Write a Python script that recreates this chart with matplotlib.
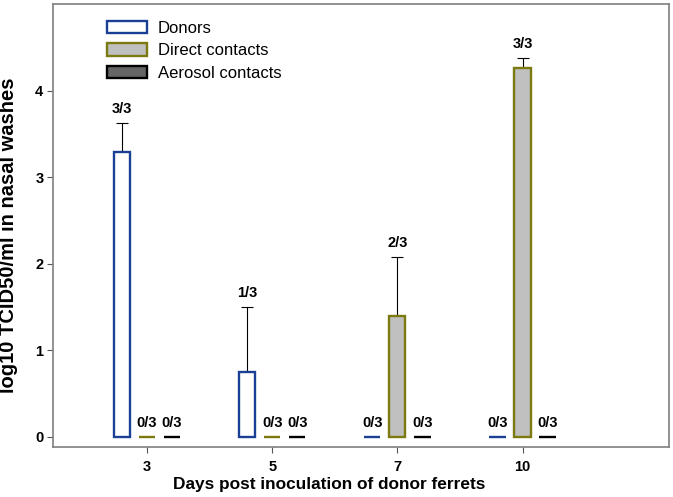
import numpy as np
import matplotlib.pyplot as plt

plt.rcParams['font.family'] = ['Liberation Sans', 'DejaVu Sans']

days = ['3', '5', '7', '10']
donors = [3.29, 0.75, 0.0, 0.0]
donors_err = [0.33, 0.75, 0.0, 0.0]
direct = [0.0, 0.0, 1.39, 4.26]
direct_err = [0.0, 0.0, 0.69, 0.12]
aerosol = [0.0, 0.0, 0.0, 0.0]
aerosol_err = [0.0, 0.0, 0.0, 0.0]
donors_lab = ['3/3', '1/3', '0/3', '0/3']
direct_lab = ['0/3', '0/3', '2/3', '3/3']
aerosol_lab = ['0/3', '0/3', '0/3', '0/3']

fig = plt.figure(figsize=(6.73, 4.97), dpi=100)
ax = fig.add_axes([0.079, 0.1006, 0.915, 0.8914])

x = np.arange(len(days))
w = 0.13
groups = [
    (donors, donors_err, donors_lab, -0.2, 'white', '#1a3f94', 'Donors'),
    (direct, direct_err, direct_lab, 0.0, '#c0c0c0', '#7a7a10', 'Direct contacts'),
    (aerosol, aerosol_err, aerosol_lab, 0.2, '#666666', 'black', 'Aerosol contacts'),
]
for vals, errs, labs, off, fc, ec, name in groups:
    ax.bar(x + off, vals, w, color=fc, edgecolor=ec, linewidth=1.7, label=name, zorder=3)
    for i in range(len(vals)):
        top = vals[i]
        if errs[i] > 0:
            ax.errorbar(x[i] + off, vals[i], yerr=[[0], [errs[i]]], color='black',
                        linewidth=0.8, capsize=4.5, capthick=0.8, zorder=2)
            top = vals[i] + errs[i]
        ax.annotate(labs[i], (x[i] + off, top), xytext=(0, 5), textcoords='offset points',
                    ha='center', va='bottom', fontsize=10.5, fontweight='bold')

ax.set_xlim(-0.75, 4.17)
ax.set_ylim(-0.12, 5.0)
ax.set_xticks(x)
ax.set_xticklabels(days)
ax.set_yticks([0, 1, 2, 3, 4])
for lab in ax.get_xticklabels() + ax.get_yticklabels():
    lab.set_fontweight('bold')
    lab.set_fontsize(10.5)
ax.tick_params(top=False, right=False, length=4, color='#555555')
ax.tick_params(axis='x', pad=5)
ax.tick_params(axis='y', pad=3)
for s in ax.spines.values():
    s.set_color('#7f7f7f')
    s.set_linewidth(1.2)

ax.set_xlabel('Days post inoculation of donor ferrets', fontsize=12.4, fontweight='bold')
ax.xaxis.set_label_coords(0.449, -0.067)
ax.set_ylabel('log10 TCID50/ml in nasal washes', fontsize=14.5, fontweight='bold')
ax.yaxis.set_label_coords(-0.057, 0.478)

ax.legend(loc='upper left', bbox_to_anchor=(0.0877, 0.962), frameon=False, fontsize=12,
          borderpad=0, borderaxespad=0, handlelength=2.4, handleheight=0.78,
          labelspacing=0.45, handletextpad=0.65)

fig.savefig('out.png', dpi=100)
